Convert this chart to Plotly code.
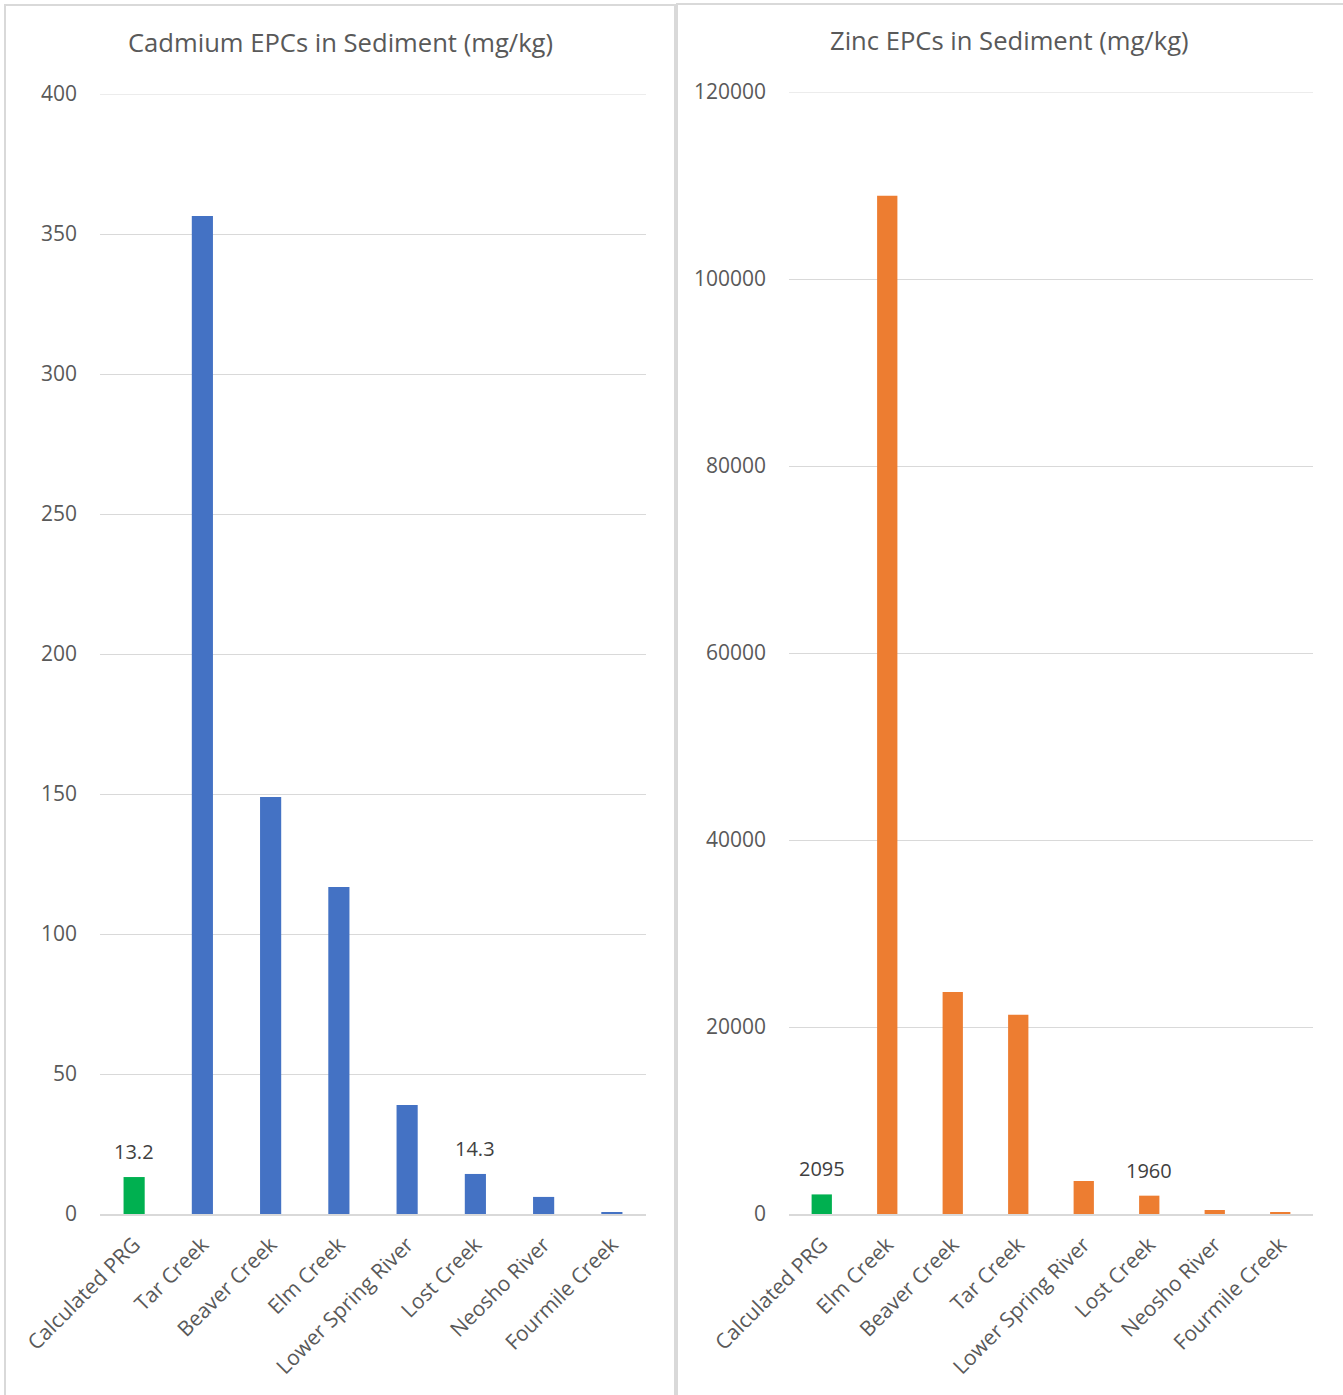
import plotly.graph_objects as go

# Cadmium EPCs in sediment (mg/kg)
cd_sites = ["Calculated PRG", "Tar Creek", "Beaver Creek", "Elm Creek",
            "Lower Spring River", "Lost Creek", "Neosho River", "Fourmile Creek"]
cd_values = [13.2, 356.4, 148.9, 116.8, 38.9, 14.3, 6.1, 0.5]
cd_labels = ["13.2", "", "", "", "", "14.3", "", ""]

# Zinc EPCs in sediment (mg/kg)
zn_sites = ["Calculated PRG", "Elm Creek", "Beaver Creek", "Tar Creek",
            "Lower Spring River", "Lost Creek", "Neosho River", "Fourmile Creek"]
zn_values = [2095, 108900, 23750, 21300, 3530, 1960, 430, 200]
zn_labels = ["2095", "", "", "", "", "1960", "", ""]

cd_ticks = [0, 50, 100, 150, 200, 250, 300, 350, 400]
zn_ticks = [0, 20000, 40000, 60000, 80000, 100000, 120000]

GREEN = "#00B050"
BLUE = "#4472C4"
ORANGE = "#ED7D31"
TEXT = "#595959"
GRID = "#D9D9D9"
FONT = "Open Sans"

W, H = 1343, 1395


def px_x(x):
    return x / W


def px_y(y):
    return 1 - y / H


fig = go.Figure()

fig.add_trace(go.Bar(
    x=cd_sites, y=cd_values,
    marker=dict(color=[GREEN] + [BLUE] * (len(cd_sites) - 1), line=dict(width=0)),
    xaxis="x", yaxis="y", showlegend=False,
))
fig.add_trace(go.Bar(
    x=zn_sites, y=zn_values,
    marker=dict(color=[GREEN] + [ORANGE] * (len(zn_sites) - 1), line=dict(width=0)),
    xaxis="x2", yaxis="y2", showlegend=False,
))

# Value labels above selected bars
for sites, values, labels, xr, yr in [
    (cd_sites, cd_values, cd_labels, "x", "y"),
    (zn_sites, zn_values, zn_labels, "x2", "y2"),
]:
    for s, v, lab in zip(sites, values, labels):
        if lab:
            fig.add_annotation(x=s, y=v, xref=xr, yref=yr, text=lab,
                               showarrow=False, xanchor="center", yanchor="bottom",
                               yshift=10,
                               font=dict(size=20, color="#404040", family=FONT))

# Top gridline of each panel
for xr, yr, top in [("x", "y", cd_ticks[-1]), ("x2", "y2", zn_ticks[-1])]:
    fig.add_shape(type="line", xref=f"{xr} domain", yref=yr,
                  x0=0, x1=1, y0=top, y1=top,
                  line=dict(color=GRID, width=1), layer="below")

xaxis_common = dict(
    type="category", tickangle=-45, showgrid=False, zeroline=False,
    showline=True, linecolor=GRID, linewidth=2, ticks="", automargin=False,
    tickfont=dict(size=21, color=TEXT, family=FONT), fixedrange=True,
    ticklabelstandoff=8,
)
yaxis_common = dict(
    showgrid=True, gridcolor=GRID, gridwidth=1, zeroline=False,
    showline=False, ticks="", automargin=False,
    tickfont=dict(size=21, color=TEXT, family=FONT),
    ticklabelstandoff=22,
)

fig.update_layout(
    template="none",
    width=W, height=H,
    margin=dict(l=0, r=0, t=0, b=0),
    paper_bgcolor="white", plot_bgcolor="white",
    bargap=0.69,
    xaxis=dict(domain=[px_x(100), px_x(646)], anchor="y", **xaxis_common),
    yaxis=dict(domain=[px_y(1214), px_y(94)], range=[0, 400],
               tickvals=cd_ticks, ticktext=[str(v) for v in cd_ticks],
               anchor="x", **yaxis_common),
    xaxis2=dict(domain=[px_x(789), px_x(1313)], anchor="y2", **xaxis_common),
    yaxis2=dict(domain=[px_y(1214), px_y(92)], range=[0, 120000],
                tickvals=zn_ticks, ticktext=[str(v) for v in zn_ticks],
                anchor="x2", **yaxis_common),
)

# Panel frames
fig.add_shape(type="rect", xref="paper", yref="paper",
              x0=px_x(5), x1=px_x(675), y0=px_y(1400), y1=px_y(5),
              line=dict(color=GRID, width=2), fillcolor="rgba(0,0,0,0)")
fig.add_shape(type="rect", xref="paper", yref="paper",
              x0=px_x(677), x1=px_x(1350), y0=px_y(1400), y1=px_y(4),
              line=dict(color=GRID, width=2), fillcolor="rgba(0,0,0,0)")

# Panel titles
fig.add_annotation(text="Cadmium EPCs in Sediment (mg/kg)", xref="paper", yref="paper",
                   x=px_x(340), y=px_y(43), xanchor="center", yanchor="middle",
                   showarrow=False, font=dict(size=25.6, color=TEXT, family=FONT))
fig.add_annotation(text="Zinc EPCs in Sediment (mg/kg)", xref="paper", yref="paper",
                   x=px_x(1009), y=px_y(41), xanchor="center", yanchor="middle",
                   showarrow=False, font=dict(size=25.6, color=TEXT, family=FONT))

fig.write_html("out.html")
